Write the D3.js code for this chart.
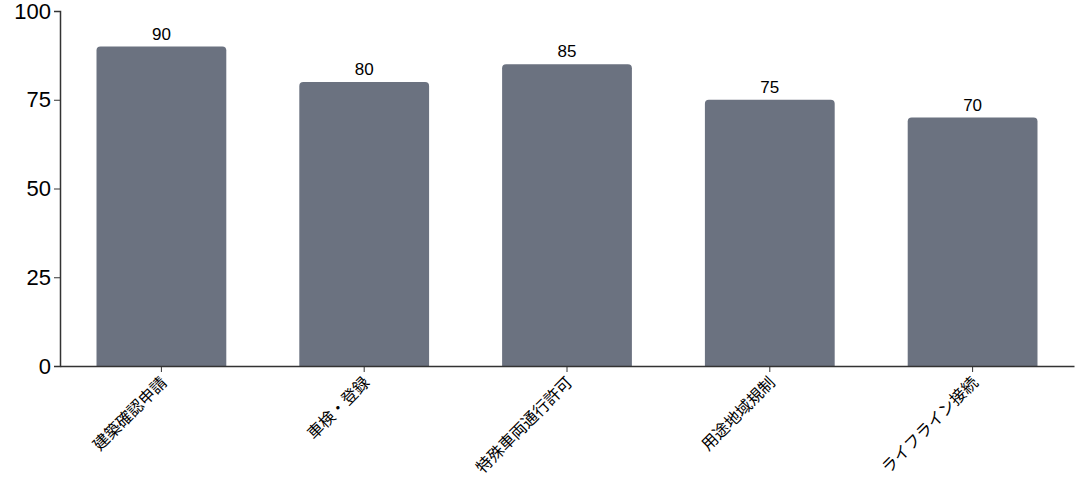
<!DOCTYPE html>
<html>
<head>
<meta charset="utf-8">
<script src="https://cdn.jsdelivr.net/npm/d3@7"></script>
<style>
  body { margin: 0; background: #fff; }
  svg { display: block; }
  .axis path, .axis line { stroke: #333; }
</style>
</head>
<body>
<svg id="chart" width="1082" height="488"></svg>
<script>
// data
var categories = ["建築確認申請", "車検・登録", "特殊車両通行許可", "用途地域規制", "ライフライン接続"];
var values = [90, 80, 85, 75, 70];
var yTicks = [0, 25, 50, 75, 100];

var svg = d3.select("#chart"),
    margin = {top: 11, right: 8, bottom: 122, left: 60},
    width = 1082,
    height = 488;

var x = d3.scaleBand()
    .domain(categories)
    .range([margin.left, width - margin.right])
    .paddingInner(0.36)
    .paddingOuter(0.18);

var y = d3.scaleLinear()
    .domain([0, 100])
    .range([height - margin.bottom, margin.top]);

var barColor = "#6b7280";
var r = 4;

// bars with rounded top corners
svg.append("g")
  .selectAll("path")
  .data(values)
  .join("path")
    .attr("fill", barColor)
    .attr("d", function(d, i) {
      var x0 = x(categories[i]), w = x.bandwidth(),
          y0 = y(d), y1 = y(0);
      return "M" + x0 + "," + y1 +
             "V" + (y0 + r) +
             "Q" + x0 + "," + y0 + " " + (x0 + r) + "," + y0 +
             "H" + (x0 + w - r) +
             "Q" + (x0 + w) + "," + y0 + " " + (x0 + w) + "," + (y0 + r) +
             "V" + y1 + "Z";
    });

// value labels
svg.append("g")
  .selectAll("text")
  .data(values)
  .join("text")
    .attr("x", function(d, i) { return x(categories[i]) + x.bandwidth() / 2; })
    .attr("y", function(d) { return y(d) - 7; })
    .attr("text-anchor", "middle")
    .style("font-family", "'Liberation Sans', Arial, sans-serif")
    .style("font-size", "17px")
    .style("fill", "#000")
    .text(function(d) { return d; });

// x axis
var gx = svg.append("g")
    .attr("class", "axis")
    .attr("transform", "translate(0," + y(0) + ")")
    .call(d3.axisBottom(x).tickSizeOuter(0));
gx.select(".domain").attr("stroke-width", 1.5);
gx.selectAll("text")
    .style("font-family", "'Noto Sans CJK JP', sans-serif")
    .style("font-size", "16px")
    .style("fill", "#000")
    .attr("text-anchor", "end")
    .attr("dx", "-0.5em")
    .attr("dy", "0.5em")
    .attr("transform", "rotate(-45)");

// y axis
var gy = svg.append("g")
    .attr("class", "axis")
    .attr("transform", "translate(" + margin.left + ",0)")
    .call(d3.axisLeft(y).tickValues(yTicks));
gy.select(".domain").attr("stroke-width", 1.5);
gy.selectAll("text")
    .style("font-family", "'Liberation Sans', Arial, sans-serif")
    .style("font-size", "22px")
    .style("fill", "#000");
</script>
</body>
</html>
